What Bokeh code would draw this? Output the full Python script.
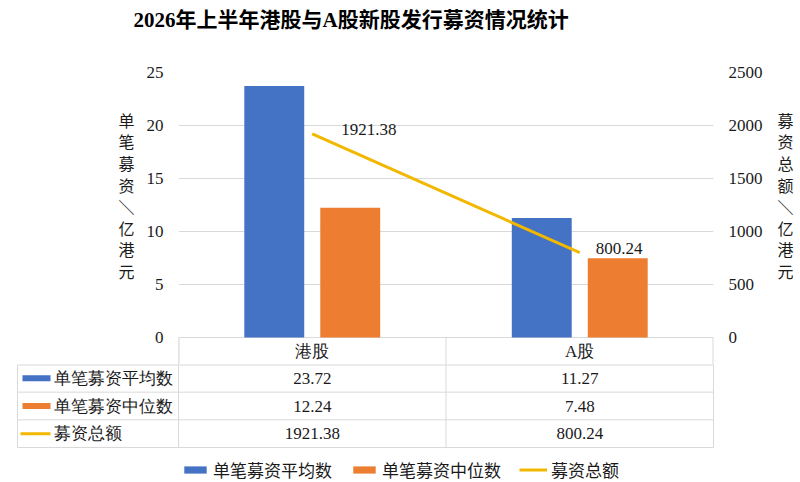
from bokeh.plotting import figure
from bokeh.models import (Range1d, LinearAxis, FactorRange, SingleIntervalTicker,
                          ColumnDataSource, Legend, LegendItem)
from bokeh.transform import dodge
from bokeh.layouts import column
from bokeh.embed import file_html
from bokeh.resources import INLINE

# ---- data -------------------------------------------------------------
title_text = "2026年上半年港股与A股新股发行募资情况统计"
markets = ["港股", "A股"]
avg_raise = [23.72, 11.27]        # 单笔募资平均数, 亿港元
median_raise = [12.24, 7.48]      # 单笔募资中位数, 亿港元
total_raise = [1921.38, 800.24]   # 募资总额, 亿港元
series_names = ["单笔募资平均数", "单笔募资中位数", "募资总额"]
left_label = "单笔募资＼亿港元"
right_label = "募资总额＼亿港元"
left_max, left_step = 25, 5
right_max, right_step = 2500, 500

# ---- style ------------------------------------------------------------
BLUE, ORANGE, GOLD = "#4472C4", "#ED7D31", "#F2B800"
GRID = "#D9D9D9"
INK = "#1A1A1A"
FONT = "'Liberation Serif', 'Noto Sans CJK SC', serif"

# page geometry (px)
W = 800
TITLE_H = 44
FRAME_LEFT, FRAME_RIGHT = 178, 713
FRAME_TOP, ZERO_Y = 72, 337
HEADER_H = 27
TOP_H = ZERO_Y + HEADER_H - TITLE_H   # chart + table header row
TABLE_LEFT = 17
ROW_H = 83                             # three data rows
BOTTOM_H = 482 - TITLE_H - TOP_H

px_per_unit = (ZERO_Y - FRAME_TOP) / left_max
header_units = HEADER_H / px_per_unit
col_px = (FRAME_RIGHT - FRAME_LEFT) / len(markets)

src = ColumnDataSource(dict(
    market=markets, avg=avg_raise, median=median_raise, total=total_raise,
))

# ---- title strip ------------------------------------------------------
t = figure(width=W, height=TITLE_H, x_range=Range1d(0, 1), y_range=Range1d(0, 1),
           x_axis_location=None, y_axis_location=None,
           output_backend="svg", toolbar_location=None,
           min_border_left=0, min_border_right=0, min_border_top=0, min_border_bottom=0)
t.frame_align = False
t.outline_line_color = None
t.grid.visible = False
t.title.text = title_text
t.title.text_font = FONT
t.title.text_font_size = "21px"
t.title.text_font_style = "bold"
t.title.text_color = "#000000"
t.title.align = "left"
t.title.offset = 133
t.title.standoff = 10

# ---- chart with the table header row ----------------------------------
p = figure(width=W, height=TOP_H, x_range=FactorRange(factors=markets),
           y_range=Range1d(-header_units, left_max), title=None,
           x_axis_location=None, output_backend="svg", toolbar_location=None,
           min_border_left=FRAME_LEFT, min_border_right=W - FRAME_RIGHT,
           min_border_top=FRAME_TOP - TITLE_H, min_border_bottom=0)
p.frame_align = False
p.outline_line_color = None
p.background_fill_color = "white"
p.border_fill_color = "white"

p.extra_y_ranges = {"total": Range1d(-header_units * right_max / left_max, right_max)}


def style_axis(ax, label, standoff):
    ax.bounds = (0, ax.ticker.interval * 5)
    ax.axis_line_color = None
    ax.major_tick_line_color = None
    ax.minor_tick_line_color = None
    ax.major_tick_out = 0
    ax.minor_tick_out = 0
    ax.major_label_standoff = 15
    ax.major_label_text_font = FONT
    ax.major_label_text_font_size = "17px"
    ax.major_label_text_color = INK
    # stacked upright characters; the trailing blank lines lift the block
    # to sit over the upper part of the value axis
    ax.axis_label = "\n".join(label) + "\n\n"
    ax.axis_label_orientation = "horizontal"
    ax.axis_label_standoff = standoff
    ax.axis_label_text_font = FONT
    ax.axis_label_text_font_size = "16px"
    ax.axis_label_text_font_style = "normal"
    ax.axis_label_text_line_height = 1.27
    ax.axis_label_text_color = INK


yl = p.yaxis[0]
yl.ticker = SingleIntervalTicker(interval=left_step)
style_axis(yl, left_label, 9)

yr = LinearAxis(y_range_name="total", ticker=SingleIntervalTicker(interval=right_step))
style_axis(yr, right_label, 12)
p.add_layout(yr, "right")

p.xgrid.visible = False
p.ygrid.ticker = yl.ticker
p.ygrid.grid_line_color = GRID

bar_w = 0.224
p.vbar(x=dodge("market", -0.142, range=p.x_range), top="avg", width=bar_w,
       source=src, fill_color=BLUE, line_color=None)
p.vbar(x=dodge("market", 0.142, range=p.x_range), top="median", width=bar_w,
       source=src, fill_color=ORANGE, line_color=None)
p.line(x="market", y="total", source=src, y_range_name="total",
       line_color=GOLD, line_width=3)

# data labels for the total line
for i, dx in enumerate((29, 16)):
    p.text(x=[markets[i]], y=[total_raise[i]], text=[f"{total_raise[i]:.2f}"],
           y_range_name="total", x_offset=dx, y_offset=-4,
           text_align="left", text_baseline="middle",
           text_font=FONT, text_font_size="17px", text_color=INK)

# table header row: category names and cell borders
p.text(x="market", y=-header_units / 2, text="market", source=src,
       text_align="center", text_baseline="middle",
       text_font=FONT, text_font_size="17px", text_color=INK)
p.segment(x0=dodge("market", -0.5, range=p.x_range), y0=0,
          x1=dodge("market", -0.5, range=p.x_range), y1=-header_units,
          source=src, line_color=GRID, line_width=1)
p.segment(x0=dodge("market", -0.5, range=p.x_range), y0=0,
          x1=dodge("market", -0.5, range=p.x_range), y1=-header_units,
          source=ColumnDataSource(dict(market=[markets[0]])), line_color=GRID, line_width=2)
p.segment(x0=dodge("market", 0.5, range=p.x_range), y0=0,
          x1=dodge("market", 0.5, range=p.x_range), y1=-header_units,
          source=ColumnDataSource(dict(market=[markets[-1]])), line_color=GRID, line_width=2)

# ---- data table rows and legend ---------------------------------------
n_rows = len(series_names)
row_px = ROW_H / n_rows
label_col = (FRAME_LEFT - TABLE_LEFT) / col_px
q = figure(width=W, height=BOTTOM_H, title=None,
           x_range=Range1d(-FRAME_LEFT / col_px, len(markets) + (W - FRAME_RIGHT) / col_px),
           y_range=Range1d(n_rows - BOTTOM_H / row_px, n_rows),
           x_axis_location=None, y_axis_location=None,
           output_backend="svg", toolbar_location=None,
           min_border_left=0, min_border_right=0,
           min_border_top=0, min_border_bottom=0)
q.frame_align = False
q.grid.visible = False
q.outline_line_color = None
q.background_fill_color = "white"
q.border_fill_color = "white"

# cell borders
q.segment(x0=-label_col, x1=len(markets), y0=list(range(n_rows)),
          y1=list(range(n_rows)), line_color=GRID, line_width=1)
q.segment(x0=[-label_col], x1=[len(markets)], y0=[n_rows], y1=[n_rows],
          line_color=GRID, line_width=2)
col_edges = [-label_col] + list(range(len(markets) + 1))
q.segment(x0=col_edges, x1=col_edges, y0=0, y1=n_rows, line_color=GRID, line_width=1)

row_y = [n_rows - 0.5 - r for r in range(n_rows)]
cells = dict(x=[], y=[], text=[])
for r, vals in enumerate((avg_raise, median_raise, total_raise)):
    for c, v in enumerate(vals):
        cells["x"].append(c + 0.5)
        cells["y"].append(row_y[r])
        cells["text"].append(f"{v:.2f}")
q.text(x="x", y="y", text="text", source=ColumnDataSource(cells),
       text_align="center", text_baseline="middle",
       text_font=FONT, text_font_size="17px", text_color=INK)

# row names with their series keys
q.text(x=-label_col, y=row_y, text=series_names, x_offset=36,
       text_align="left", text_baseline="middle",
       text_font=FONT, text_font_size="17px", text_color=INK)
key_x = -label_col + 19 / col_px
r_avg = q.rect(x=[key_x], y=[row_y[0]], width=28, height=6,
               width_units="screen", height_units="screen",
               fill_color=BLUE, line_color=None)
r_med = q.rect(x=[key_x], y=[row_y[1]], width=28, height=6,
               width_units="screen", height_units="screen",
               fill_color=ORANGE, line_color=None)
r_tot = q.segment(x0=[-label_col + 3 / col_px], x1=[-label_col + 33 / col_px],
                  y0=[row_y[2]], y1=[row_y[2]], line_color=GOLD, line_width=3)

legend = Legend(items=[LegendItem(label=n, renderers=[r])
                       for n, r in zip(series_names, (r_avg, r_med, r_tot))],
                orientation="horizontal", location="bottom_center",
                glyph_width=28, glyph_height=9, label_standoff=4, spacing=18,
                padding=0, margin=0, border_line_color=None,
                background_fill_alpha=0, label_text_font=FONT,
                label_text_font_size="17px", label_text_color=INK)
q.add_layout(legend)

layout = column(t, p, q, spacing=0)
open("out.html", "w").write(file_html(layout, INLINE))
